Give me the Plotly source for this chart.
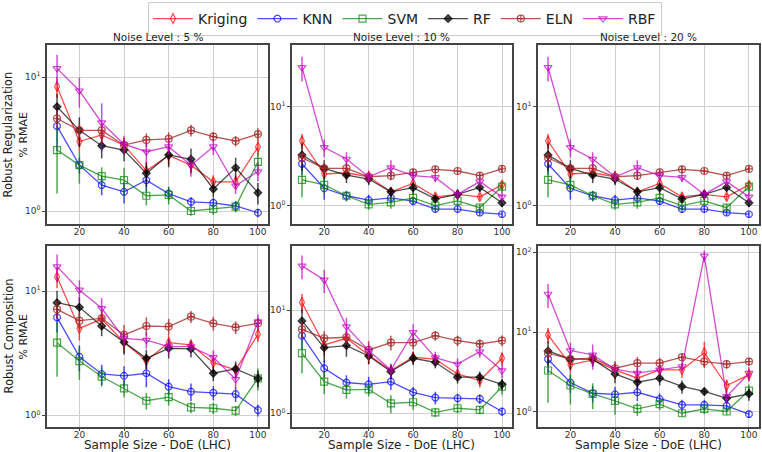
import plotly.graph_objects as go

x_vals = [10, 20, 30, 40, 50, 60, 70, 80, 90, 100]
models = ["Kriging", "KNN", "SVM", "RF", "ELN", "RBF"]
noise_titles = ["Noise Level : 5 %", "Noise Level : 10 %", "Noise Level : 20 %"]
row_titles = ["Robust Regularization", "Robust Composition"]

# ---- Robust Regularization, 5 %
reg5_kriging = [8.5, 3.3, 3.7, 3.1, 2.0, 2.6, 2.2, 1.65, 1.65, 3.0]
reg5_knn = [4.3, 2.2, 1.56, 1.39, 1.7, 1.35, 1.17, 1.15, 1.09, 0.97]
reg5_svm = [2.85, 2.2, 1.82, 1.7, 1.3, 1.32, 1.0, 1.035, 1.08, 2.33]
reg5_rf = [6.0, 4.0, 3.07, 2.85, 1.91, 2.62, 2.43, 1.46, 2.1, 1.37]
reg5_eln = [4.9, 4.0, 4.0, 3.1, 3.39, 3.46, 4.0, 3.59, 3.33, 3.75]
reg5_rbf = [11.6, 7.9, 4.56, 3.15, 2.77, 3.02, 2.2, 3.02, 1.54, 1.97]
reg5_kriging_err = [1.5, 0.5, 0.6, 0.4, 0.3, 0.4, 0.3, 0.2, 0.2, 0.4]
reg5_knn_err = [1.5, 0.3, 0.25, 0.25, 0.3, 0.15, 0.1, 0.1, 0.1, 0.07]
reg5_svm_err = [1.5, 0.6, 0.3, 0.4, 0.2, 0.2, 0.08, 0.1, 0.1, 0.4]
reg5_rf_err = [1.5, 1.0, 0.6, 0.5, 0.4, 0.5, 0.5, 0.2, 0.4, 0.25]
reg5_eln_err = [0.8, 0.5, 0.5, 0.4, 0.4, 0.4, 0.4, 0.3, 0.3, 0.4]
reg5_rbf_err = [3.0, 2.0, 1.8, 0.5, 0.5, 0.4, 0.4, 0.4, 0.2, 0.3]

# ---- Robust Regularization, 10 %
reg10_kriging = [4.5, 2.09, 2.15, 1.96, 1.38, 1.68, 1.23, 1.3, 1.23, 1.62]
reg10_knn = [2.64, 1.5, 1.26, 1.14, 1.2, 1.11, 0.925, 0.925, 0.85, 0.82]
reg10_svm = [1.82, 1.62, 1.26, 1.03, 1.08, 1.2, 1.0, 1.12, 0.955, 1.56]
reg10_rf = [3.25, 2.38, 2.04, 1.86, 1.38, 1.52, 1.17, 1.3, 1.53, 1.07]
reg10_eln = [3.05, 2.38, 2.38, 1.96, 2.01, 2.17, 2.33, 2.24, 2.01, 2.35]
reg10_rbf = [25.0, 3.88, 2.96, 1.96, 2.42, 2.01, 1.93, 1.3, 1.75, 1.23]
reg10_kriging_err = [0.8, 0.3, 0.3, 0.3, 0.15, 0.2, 0.1, 0.1, 0.1, 0.15]
reg10_knn_err = [0.6, 0.35, 0.15, 0.15, 0.15, 0.1, 0.08, 0.08, 0.06, 0.06]
reg10_svm_err = [0.6, 0.3, 0.15, 0.12, 0.15, 0.15, 0.08, 0.1, 0.08, 0.2]
reg10_rf_err = [1.0, 0.5, 0.35, 0.25, 0.15, 0.2, 0.1, 0.15, 0.15, 0.1]
reg10_eln_err = [0.4, 0.3, 0.3, 0.2, 0.2, 0.2, 0.2, 0.15, 0.15, 0.2]
reg10_rbf_err = [7.0, 0.8, 0.5, 0.25, 0.45, 0.25, 0.2, 0.15, 0.2, 0.15]

# ---- Robust Regularization, 20 %
reg20_kriging = [4.5, 2.09, 2.15, 1.96, 1.38, 1.68, 1.23, 1.3, 1.23, 1.62]
reg20_knn = [2.64, 1.5, 1.26, 1.14, 1.2, 1.11, 0.925, 0.925, 0.85, 0.82]
reg20_svm = [1.82, 1.62, 1.26, 1.03, 1.08, 1.2, 1.0, 1.12, 0.955, 1.56]
reg20_rf = [3.25, 2.38, 2.04, 1.86, 1.38, 1.52, 1.17, 1.3, 1.53, 1.07]
reg20_eln = [3.05, 2.38, 2.38, 1.96, 2.01, 2.17, 2.33, 2.24, 2.01, 2.35]
reg20_rbf = [25.0, 3.88, 2.96, 1.96, 2.42, 2.01, 1.93, 1.3, 1.75, 1.23]
reg20_kriging_err = [0.8, 0.3, 0.3, 0.3, 0.15, 0.2, 0.1, 0.1, 0.1, 0.15]
reg20_knn_err = [0.6, 0.35, 0.15, 0.15, 0.15, 0.1, 0.08, 0.08, 0.06, 0.06]
reg20_svm_err = [0.6, 0.3, 0.15, 0.12, 0.15, 0.15, 0.08, 0.1, 0.08, 0.2]
reg20_rf_err = [1.0, 0.5, 0.35, 0.25, 0.15, 0.2, 0.1, 0.15, 0.15, 0.1]
reg20_eln_err = [0.4, 0.3, 0.3, 0.2, 0.2, 0.2, 0.2, 0.15, 0.15, 0.2]
reg20_rbf_err = [7.0, 0.8, 0.5, 0.25, 0.45, 0.25, 0.2, 0.15, 0.2, 0.15]

# ---- Robust Composition, 5 %
com5_kriging = [13.0, 5.0, 5.95, 3.87, 2.75, 3.84, 3.68, 2.65, 2.32, 4.48]
com5_knn = [6.14, 2.96, 2.15, 2.08, 2.18, 1.7, 1.55, 1.52, 1.48, 1.1]
com5_svm = [3.84, 2.73, 2.05, 1.65, 1.31, 1.4, 1.16, 1.14, 1.09, 1.98]
com5_rf = [8.06, 7.39, 5.23, 3.87, 2.87, 3.46, 3.42, 2.18, 2.36, 1.98]
com5_eln = [7.12, 5.77, 6.03, 4.43, 5.23, 5.17, 6.22, 5.5, 5.1, 5.5]
com5_rbf = [15.7, 10.2, 7.26, 4.16, 4.03, 3.57, 3.57, 2.93, 1.95, 5.67]
com5_kriging_err = [2.5, 1.0, 1.0, 0.7, 0.4, 0.5, 0.4, 0.3, 0.3, 0.6]
com5_knn_err = [1.5, 0.7, 0.4, 0.4, 0.5, 0.25, 0.25, 0.2, 0.2, 0.12]
com5_svm_err = [1.8, 0.8, 0.35, 0.25, 0.2, 0.2, 0.12, 0.12, 0.1, 0.4]
com5_rf_err = [2.0, 1.5, 0.9, 0.8, 0.5, 0.6, 0.5, 0.3, 0.35, 0.3]
com5_eln_err = [1.2, 0.9, 0.8, 0.9, 0.9, 0.8, 0.7, 0.7, 0.6, 0.6]
com5_rbf_err = [4.0, 2.0, 1.5, 0.6, 0.6, 0.5, 0.4, 0.4, 0.3, 0.8]

# ---- Robust Composition, 10 %
com10_kriging = [11.9, 4.61, 5.35, 3.68, 2.6, 3.5, 3.35, 2.41, 2.08, 3.42]
com10_knn = [5.68, 2.73, 1.99, 1.91, 2.03, 1.6, 1.42, 1.4, 1.38, 1.04]
com10_svm = [3.83, 2.03, 1.69, 1.71, 1.25, 1.28, 1.02, 1.12, 1.08, 1.81]
com10_rf = [7.88, 4.34, 4.54, 3.6, 2.54, 3.42, 3.13, 2.24, 2.24, 1.91]
com10_eln = [6.54, 5.35, 5.47, 4.12, 4.86, 4.86, 5.68, 5.08, 4.71, 5.08]
com10_rbf = [27.0, 19.7, 6.94, 4.06, 2.63, 6.11, 3.47, 3.01, 3.97, 2.6]
com10_kriging_err = [2.5, 1.0, 1.0, 0.7, 0.4, 0.5, 0.4, 0.3, 0.3, 0.5]
com10_knn_err = [1.5, 0.5, 0.35, 0.35, 0.35, 0.2, 0.2, 0.15, 0.15, 0.1]
com10_svm_err = [1.4, 0.5, 0.3, 0.25, 0.25, 0.2, 0.1, 0.12, 0.1, 0.3]
com10_rf_err = [2.5, 1.2, 1.0, 0.6, 0.4, 0.5, 0.4, 0.3, 0.3, 0.25]
com10_eln_err = [1.2, 0.9, 0.8, 0.9, 0.8, 0.7, 0.6, 0.6, 0.5, 0.6]
com10_rbf_err = [7.0, 5.0, 1.5, 0.6, 0.4, 1.2, 0.5, 0.4, 0.5, 0.4]

# ---- Robust Composition, 20 %
com20_kriging = [9.22, 3.88, 4.48, 3.36, 2.64, 3.36, 3.36, 5.53, 2.14, 2.91]
com20_knn = [4.57, 2.33, 1.71, 1.66, 1.76, 1.45, 1.22, 1.22, 1.19, 0.935]
com20_svm = [3.3, 2.14, 1.68, 1.37, 1.09, 1.25, 0.96, 1.09, 1.01, 1.85]
com20_rf = [5.81, 4.57, 4.57, 2.99, 2.35, 2.64, 2.08, 1.8, 1.48, 1.68]
com20_eln = [5.43, 4.57, 4.7, 3.52, 4.07, 4.07, 4.84, 4.27, 3.96, 4.27]
com20_rbf = [30.0, 5.87, 5.18, 3.42, 3.05, 3.36, 3.7, 90.0, 1.56, 3.05]
com20_kriging_err = [2.0, 0.8, 0.7, 0.8, 0.6, 0.5, 0.7, 2.0, 0.4, 0.5]
com20_knn_err = [1.5, 0.6, 0.4, 0.4, 0.4, 0.25, 0.2, 0.2, 0.15, 0.1]
com20_svm_err = [2.0, 0.9, 0.6, 0.45, 0.2, 0.2, 0.1, 0.15, 0.1, 0.35]
com20_rf_err = [2.0, 1.2, 0.9, 0.7, 0.4, 0.5, 0.4, 0.2, 0.2, 0.3]
com20_eln_err = [1.0, 0.8, 0.7, 0.8, 0.8, 0.7, 0.6, 0.6, 0.5, 0.5]
com20_rbf_err = [10.0, 1.5, 1.8, 0.5, 0.5, 0.5, 0.5, 15.0, 0.3, 0.6]

panels = [
    [
        ([reg5_kriging, reg5_knn, reg5_svm, reg5_rf, reg5_eln, reg5_rbf],
         [reg5_kriging_err, reg5_knn_err, reg5_svm_err, reg5_rf_err, reg5_eln_err, reg5_rbf_err]),
        ([reg10_kriging, reg10_knn, reg10_svm, reg10_rf, reg10_eln, reg10_rbf],
         [reg10_kriging_err, reg10_knn_err, reg10_svm_err, reg10_rf_err, reg10_eln_err, reg10_rbf_err]),
        ([reg20_kriging, reg20_knn, reg20_svm, reg20_rf, reg20_eln, reg20_rbf],
         [reg20_kriging_err, reg20_knn_err, reg20_svm_err, reg20_rf_err, reg20_eln_err, reg20_rbf_err]),
    ],
    [
        ([com5_kriging, com5_knn, com5_svm, com5_rf, com5_eln, com5_rbf],
         [com5_kriging_err, com5_knn_err, com5_svm_err, com5_rf_err, com5_eln_err, com5_rbf_err]),
        ([com10_kriging, com10_knn, com10_svm, com10_rf, com10_eln, com10_rbf],
         [com10_kriging_err, com10_knn_err, com10_svm_err, com10_rf_err, com10_eln_err, com10_rbf_err]),
        ([com20_kriging, com20_knn, com20_svm, com20_rf, com20_eln, com20_rbf],
         [com20_kriging_err, com20_knn_err, com20_svm_err, com20_rf_err, com20_eln_err, com20_rbf_err]),
    ],
]

colors = ["rgba(255,0,0,0.7)", "rgba(0,0,255,0.7)", "rgba(0,128,0,0.7)",
          "rgba(0,0,0,0.7)", "rgba(165,42,42,0.8)", "rgba(191,0,191,0.7)"]
symbols = ["diamond-tall-open", "octagon-open", "square-open", "diamond", "circle-cross-open", "triangle-down-open"]
msizes = [7, 7, 7, 6, 7, 7]

W, H = 762, 452
col_px = [(47, 268), (292, 512), (538, 759)]
row_px = [(45, 224), (246, 427)]
yranges = [[(-0.097, 1.239), (-0.185, 1.623), (-0.185, 1.623)],
           [(-0.094, 1.362), (-0.133, 1.624), (-0.19, 2.079)]]

font = "DejaVu Sans"
fig = go.Figure()
layout = {}
annotations = []
idx = 0
for r in range(2):
    for c in range(3):
        idx += 1
        xa = "xaxis" if idx == 1 else f"xaxis{idx}"
        ya = "yaxis" if idx == 1 else f"yaxis{idx}"
        xref = "x" if idx == 1 else f"x{idx}"
        yref = "y" if idx == 1 else f"y{idx}"
        x0, x1 = col_px[c]
        y0, y1 = row_px[r]
        layout[xa] = dict(domain=[x0 / W, x1 / W], anchor=yref, range=[5.5, 104.5],
                          tickvals=[20, 40, 60, 80, 100], showgrid=True, gridcolor="#d0d0d0",
                          gridwidth=1, showline=True, linecolor="#444", linewidth=1.5, mirror=True,
                          ticks="outside", ticklen=2, tickcolor="#444", zeroline=False,
                          ticklabelstandoff=-4,
                          tickfont=dict(family=font, size=9, color="#333"))
        vals = [1, 10, 100]
        layout[ya] = dict(domain=[1 - y1 / H, 1 - y0 / H], anchor=xref, type="log",
                          range=list(yranges[r][c]), tickvals=vals,
                          ticktext=["10<sup>0</sup>", "10<sup>1</sup>", "10<sup>2</sup>"],
                          showgrid=True, gridcolor="#d0d0d0", gridwidth=1, showline=True,
                          linecolor="#444", linewidth=1.5, mirror=True, ticks="outside",
                          ticklen=3, tickcolor="#444", zeroline=False,
                          tickfont=dict(family=font, size=9, color="#333"))
        series, errs = panels[r][c]
        for k in range(6):
            fig.add_trace(go.Scatter(
                x=x_vals, y=series[k], mode="lines+markers", name=models[k],
                legendgroup=models[k], showlegend=(idx == 1),
                xaxis=xref, yaxis=yref,
                line=dict(color=colors[k], width=1.3),
                marker=dict(symbol=symbols[k], size=msizes[k], color=colors[k],
                            line=dict(color=colors[k], width=1.2)),
                error_y=dict(type="data", array=errs[k], visible=True, thickness=1.5,
                             width=0, color=colors[k]),
            ))
        if r == 0:
            annotations.append(dict(text=noise_titles[c], x=(x0 + x1) / 2 / W, y=1 - 37 / H,
                                    xref="paper", yref="paper", showarrow=False,
                                    xanchor="center", yanchor="middle",
                                    font=dict(family=font, size=10.5, color="#222")))
        else:
            annotations.append(dict(text="Sample Size - DoE (LHC)", x=(x0 + x1) / 2 / W,
                                    y=1 - 445 / H, xref="paper", yref="paper", showarrow=False,
                                    xanchor="center", yanchor="middle",
                                    font=dict(family=font, size=12, color="#222")))
    y0, y1 = row_px[r]
    annotations.append(dict(text=row_titles[r], x=8 / W, y=1 - (y0 + y1) / 2 / H,
                            xref="paper", yref="paper", showarrow=False, textangle=-90,
                            xanchor="center", yanchor="middle",
                            font=dict(family=font, size=11.5, color="#222")))
    annotations.append(dict(text="% RMAE", x=23 / W, y=1 - (y0 + y1) / 2 / H,
                            xref="paper", yref="paper", showarrow=False, textangle=-90,
                            xanchor="center", yanchor="middle",
                            font=dict(family=font, size=11, color="#222")))

fig.update_layout(
    width=W, height=H, margin=dict(l=0, r=0, t=0, b=0),
    paper_bgcolor="white", plot_bgcolor="white",
    font=dict(family=font),
    showlegend=True,
    legend=dict(orientation="h", x=405 / W, xanchor="center", y=1 - 2 / H, yanchor="top",
                bordercolor="#cccccc", borderwidth=1, bgcolor="white",
                font=dict(family=font, size=14, color="#222"),
                itemwidth=40, tracegroupgap=0),
    annotations=annotations,
    **layout,
)

fig.write_html("out.html")
